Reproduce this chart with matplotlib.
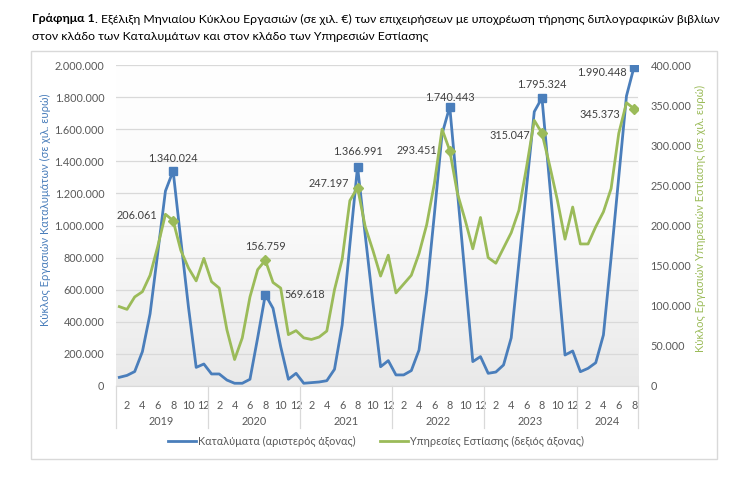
import matplotlib
matplotlib.use('Agg')
import matplotlib.pyplot as plt
import matplotlib.transforms as mtransforms
from matplotlib.patches import Rectangle
from matplotlib.ticker import FuncFormatter, MultipleLocator
from matplotlib.colors import LinearSegmentedColormap
import numpy as np

# ---------------- data (thousand EUR) ----------------
years = ['2019', '2020', '2021', '2022', '2023', '2024']
months_in_year = [12, 12, 12, 12, 12, 8]

accommodation = [
    54000, 66000, 90000, 214000, 450000, 830000, 1215000, 1340024, 910000, 490000, 116000, 137000,   # 2019
    75000, 75000, 37000, 17000, 17000, 42000, 300000, 569618, 484000, 245000, 42000, 79000,          # 2020
    17000, 21000, 25000, 33000, 104000, 380000, 880000, 1366991, 940000, 520000, 120000, 158000,     # 2021
    69000, 69000, 96000, 224000, 590000, 1070000, 1570000, 1740443, 1211000, 681000, 152000, 183000, # 2022
    79000, 87000, 131000, 300000, 770000, 1240000, 1709000, 1795324, 1263000, 727000, 193000, 218000,# 2023
    89000, 110000, 145000, 318000, 800000, 1304000, 1807000, 1990448,                                # 2024
]
food_services = [
    98900, 95500, 111000, 117500, 138000, 174000, 214000, 206061, 169000, 147000, 131000, 159000,    # 2019
    130000, 122000, 70000, 33000, 60000, 111000, 145000, 156759, 129000, 122000, 64000, 69000,       # 2020
    60000, 58000, 61000, 68500, 120000, 158000, 231000, 247197, 198500, 169000, 137000, 163000,      # 2021
    116000, 127000, 138000, 165000, 201000, 252500, 320000, 293451, 240000, 207000, 171000, 210000,  # 2022
    160000, 153000, 172000, 191000, 219000, 273000, 331000, 315047, 275000, 232000, 183000, 223000,  # 2023
    177000, 177000, 198500, 217000, 246000, 315000, 353000, 345373,                                  # 2024
]
labelled_month = 8  # August values are labelled

series_names = ['Καταλύματα (αριστερός άξονας)', 'Υπηρεσίες Εστίασης (δεξιός άξονας)']
title_bold = 'Γράφημα 1'
title_rest_1 = '. Εξέλιξη Μηνιαίου Κύκλου Εργασιών (σε χιλ. €) των επιχειρήσεων με υποχρέωση τήρησης διπλογραφικών βιβλίων'
title_line_2 = 'στον κλάδο των Καταλυμάτων και στον κλάδο των Υπηρεσιών Εστίασης'
left_label = 'Κύκλος Εργασιών Καταλυμάτων (σε χιλ. ευρώ)'
right_label = 'Κύκλος Εργασιών Υπηρεσιών Εστίασης (σε χιλ. ευρώ)'

# ---------------- style ----------------
BLUE = '#4A7EBB'
GREEN = '#9BBB59'
TXT = '#595959'
LBL = '#404040'
GRID = '#D9D9D9'
FS = 7.8
plt.rcParams['font.family'] = ['Lato', 'DejaVu Sans']

W, H = 747, 480
fig = plt.figure(figsize=(W / 100, H / 100), dpi=100)

def fx(px):
    return px / W

def fy(py):
    return 1 - py / H

# chart border
fig.patches.append(Rectangle((fx(31), fy(459)), fx(717) - fx(31), fy(51) - fy(459),
                             transform=fig.transFigure, fill=False, edgecolor='#D9D9D9', lw=1.0))

ax = fig.add_axes([fx(115.5), fy(386), fx(638) - fx(115.5), fy(65) - fy(386)])
ax2 = ax.twinx()

n = len(accommodation)
x = np.arange(n)
month_num = np.concatenate([np.arange(1, m + 1) for m in months_in_year])

# gradient background
grad = np.linspace(0, 1, 256).reshape(-1, 1)
cmap = LinearSegmentedColormap.from_list('g', ['#FFFFFF', '#FAFAFA', '#E9E9E9'])
ax.imshow(grad, extent=[0, 1, 0, 1], transform=ax.transAxes, cmap=cmap, aspect='auto', zorder=0)

ax.set_xlim(-0.5, n - 0.5)
ax.set_ylim(0, 2000000)
ax2.set_ylim(0, 400000)
ax.yaxis.set_major_locator(MultipleLocator(200000))
ax2.yaxis.set_major_locator(MultipleLocator(50000))

fmt = FuncFormatter(lambda v, p: f'{int(round(v)):,}'.replace(',', '.'))
ax.yaxis.set_major_formatter(fmt)
ax2.yaxis.set_major_formatter(fmt)

ax.grid(axis='y', color=GRID, lw=0.9, zorder=1)
ax.set_axisbelow(True)
for a in (ax, ax2):
    for s in a.spines.values():
        s.set_visible(False)
ax.spines['bottom'].set_visible(True)
ax.spines['bottom'].set_color(GRID)

ax.tick_params(axis='y', length=0, pad=8, labelsize=FS, labelcolor=TXT)
ax2.tick_params(axis='y', length=0, pad=9, labelsize=FS, labelcolor=TXT)

# x ticks: even months
even_idx = x[month_num % 2 == 0]
ax.set_xticks(even_idx)
ax.set_xticklabels([str(m) for m in month_num[month_num % 2 == 0]])
ax.tick_params(axis='x', length=0, pad=10, labelsize=FS, labelcolor=TXT)

trans = mtransforms.blended_transform_factory(ax.transData, ax.transAxes)
sep_bottom = -(428 - 386) / (386 - 65)
year_y = -(421.5 - 386) / (386 - 65)
start = 0
bounds = [-0.5]
for yr, m in zip(years, months_in_year):
    ax.text(start + (m - 1) / 2, year_y, yr, transform=trans, ha='center', va='center',
            fontsize=FS, color=TXT)
    start += m
    bounds.append(start - 0.5)
for b in bounds:
    ax.plot([b, b], [0, sep_bottom], transform=trans, color=GRID, lw=0.9, clip_on=False)

# lines
l1, = ax.plot(x, accommodation, color=BLUE, lw=2.0, zorder=3)
l2, = ax2.plot(x, food_services, color=GREEN, lw=2.0, zorder=3)

lab_idx = x[month_num == labelled_month]
acc = np.array(accommodation)
fs = np.array(food_services)
ax.plot(lab_idx, acc[lab_idx], ls='none', marker='s', ms=6, color=BLUE, zorder=4)
ax2.plot(lab_idx, fs[lab_idx], ls='none', marker='D', ms=5, color=GREEN, zorder=4)

# data labels: (dx, dy, ha) in pixels, dy positive = up
acc_off = [(0, 12, 'center'), (19, 0, 'left'), (0, 15, 'center'), (0, 9, 'center'),
           (0, 13, 'center'), (-7, -6, 'right')]
fs_off = [(-16, 5, 'right'), (0, 14, 'center'), (-9, 4, 'right'), (-13, 0, 'right'),
          (-12, -2, 'right'), (-14, -6, 'right')]
for i, (dx, dy, ha) in zip(lab_idx, acc_off):
    ax2.annotate(fmt(acc[i], None), xy=(i, acc[i] / 5), xytext=(dx, dy),
                 textcoords='offset pixels', ha=ha, va='center', fontsize=FS, color=LBL, zorder=6)
for i, (dx, dy, ha) in zip(lab_idx, fs_off):
    ax2.annotate(fmt(fs[i], None), xy=(i, fs[i]), xytext=(dx, dy),
                 textcoords='offset pixels', ha=ha, va='center', fontsize=FS, color=LBL, zorder=6)

# axis labels
fig.text(fx(45), fy(210), left_label, rotation=90, ha='center', va='center',
         fontsize=8, color=BLUE)
fig.text(fx(700), fy(218), right_label, rotation=90, ha='center', va='center',
         fontsize=8, color=GREEN)

# legend
fig.legend(handles=[l1, l2], labels=series_names, loc='center',
           bbox_to_anchor=(fx(376), fy(441)), ncol=2, frameon=False,
           fontsize=FS, handlelength=2.6, handletextpad=0.15, columnspacing=2.3,
           labelcolor=TXT)

# title
t1 = fig.text(fx(32), fy(19), title_bold, fontsize=8.8, weight='bold', va='center', ha='left', color='black')
fig.canvas.draw()
bb = t1.get_window_extent()
fig.text(bb.x1 / W, fy(19), title_rest_1, fontsize=8.8, va='center', ha='left', color='black')
fig.text(fx(32), fy(37), title_line_2, fontsize=8.8, va='center', ha='left', color='black')

fig.savefig('out.png', dpi=100)
